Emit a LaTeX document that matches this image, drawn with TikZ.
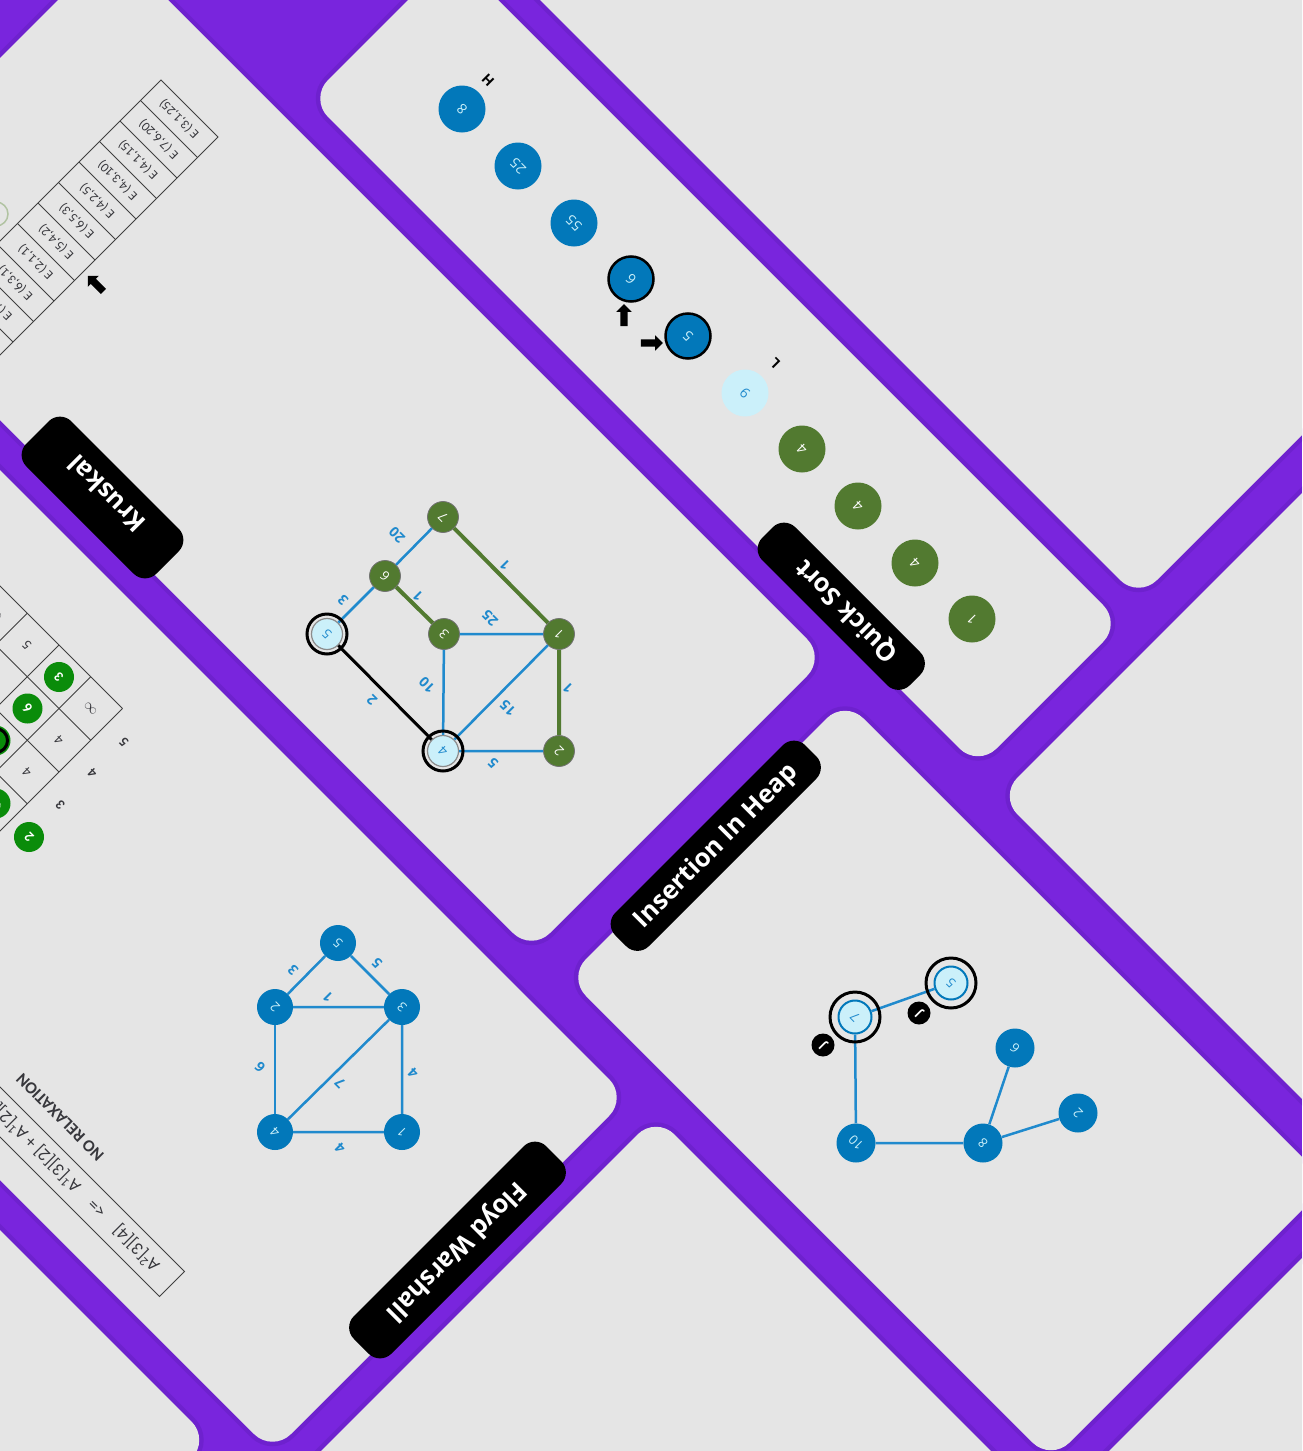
\documentclass[tikz,border=0pt]{standalone}
\usepackage{fontspec}
\setmainfont{Open Sans}
\newfontfamily\cellfont{Carlito}
\usetikzlibrary{arrows.meta,shapes.arrows}

\definecolor{bgviolet}{RGB}{121,37,221}
\definecolor{bandshade}{RGB}{98,30,188}
\definecolor{cardgray}{RGB}{229,229,229}
\definecolor{heapblue}{RGB}{2,120,186}
\definecolor{lineblue}{RGB}{32,138,205}
\definecolor{paleblue}{RGB}{203,240,250}
\definecolor{moss}{RGB}{82,122,48}
\definecolor{cellgreen}{RGB}{10,140,10}
\definecolor{inkgray}{RGB}{55,55,60}

\begin{document}
\begin{tikzpicture}[
  x=1pt, y=-1pt,
  ds/.style={x={(0.5pt,0.5pt)}, y={(0.5pt,-0.5pt)}},
  card/.style={fill=cardgray, rounded corners=26pt,
    preaction={draw=bandshade, line width=9pt, draw opacity=.45}},
  tab/.style={fill=black, rounded corners=16pt},
  tabtext/.style={text=white, font=\bfseries\fontsize{25.5}{25.5}\selectfont},
  turned/.style={rotate=135},
  % Kruskal graph
  kvert/.style={circle, fill=moss, draw=black!55, line width=.8pt,
    minimum size=31pt, inner sep=0pt, text=white,
    font=\fontsize{13}{13}\selectfont, turned},
  kpick/.style={kvert, fill=paleblue, draw=black!45, line width=1.2pt, text=lineblue},
  pickring/.style={draw=black, line width=3pt},
  kblue/.style={draw=lineblue, line width=2.5pt},
  kgreen/.style={draw=moss, line width=4pt},
  kblack/.style={draw=black, line width=3pt},
  wlabel/.style={text=lineblue, font=\bfseries\fontsize{14}{14}\selectfont, turned},
  % quick sort row
  qcell/.style={circle, fill=heapblue, minimum size=47pt, inner sep=0pt,
    text=paleblue, font=\fontsize{14}{14}\selectfont, turned},
  qmark/.style={qcell, draw=black, line width=2.5pt, minimum size=45pt},
  qpivot/.style={qcell, fill=paleblue, text=lineblue},
  qdone/.style={qcell, fill=moss, text=white},
  ptrtag/.style={text=black, font=\bfseries\fontsize{14}{14}\selectfont, turned},
  pointer/.style={single arrow, fill=black, inner sep=3.5pt, minimum height=22pt,
    single arrow head extend=4pt},
  % heap and Floyd graphs
  hvert/.style={circle, fill=heapblue, minimum size=39pt, inner sep=0pt,
    text=paleblue, font=\fontsize{13}{13}\selectfont, turned},
  hpick/.style={hvert, fill=paleblue, draw=heapblue, line width=2pt,
    minimum size=33pt, text=lineblue},
  hedge/.style={draw=lineblue, line width=2.5pt},
  badge/.style={circle, fill=black, minimum size=23pt, inner sep=0pt,
    text=white, font=\bfseries\fontsize{12}{12}\selectfont, turned},
  fvert/.style={hvert, minimum size=36pt},
  % tables
  gridline/.style={draw=black!75, line width=1pt},
  celltxt/.style={text=inkgray, font=\cellfont\fontsize{13}{13}\selectfont, turned},
  cellnum/.style={text=inkgray, font=\cellfont\fontsize{14}{14}\selectfont, turned},
  cellhit/.style={circle, fill=cellgreen, minimum size=30pt, inner sep=0pt,
    text=white, font=\cellfont\bfseries\fontsize{14}{14}\selectfont, turned},
  relax/.style={text=inkgray, font=\cellfont\bfseries\fontsize{17}{17}\selectfont, turned},
  formula/.style={text=inkgray, font=\cellfont\fontsize{18}{18}\selectfont, turned}
]

\useasboundingbox (0,0) rectangle (1302,1451);
\clip (0,0) rectangle (1302,1451);
\fill[bgviolet] (0,0) rectangle (1302,1451);

% cards, drawn along the diagonals (first coordinate d, second s)
\begin{scope}[ds]
  \fill[card] (-420,58) -- (168,58) -- (168,1483) -- (-420,1483) -- cycle;        % Kruskal
  \fill[card] (211,408) -- (498,408) -- (498,1745) -- (211,1745) -- cycle;        % Quick Sort
  \fill[card] (540,-600) -- (2600,-600) -- (2600,1737) -- (540,1737) -- cycle;    % top right
  \fill[card] (203,1795) -- (2600,1795) -- (2600,4000) -- (203,4000) -- cycle;    % right
  \fill[card] (-410,1545) -- (145,1545) -- (145,2512) -- (-410,2512) -- cycle;    % Insertion In Heap
  \fill[card] (-410,2560) -- (145,2560) -- (145,4000) -- (-410,4000) -- cycle;    % bottom right
  \fill[card] (-1180,-600) -- (-470,-600) -- (-470,1725) -- (-1180,1725) -- cycle; % Floyd Warshall
  \fill[card] (-1500,1772) -- (-460,1772) -- (-460,4000) -- (-1500,4000) -- cycle; % bottom
  \fill[card] (-2600,-600) -- (-1230,-600) -- (-1230,1650) -- (-2600,1650) -- cycle; % bottom left

  % title tabs
  \fill[tab] (-440,470) -- (-350,470) -- (-350,730) -- (-440,730) -- cycle;
  \fill[tab] (202,1300) -- (268,1300) -- (268,1595) -- (202,1595) -- cycle;
  \fill[tab] (-320,1528) -- (60,1528) -- (60,1595) -- (-320,1595) -- cycle;
  \fill[tab] (-985,1670) -- (-600,1670) -- (-600,1745) -- (-985,1745) -- cycle;
  \node[tabtext, rotate=135] (krtitle) at (-388,600) {Kruskal};
  \node[tabtext, rotate=135] (qstitle) at (236,1458) {Quick Sort};
  \node[tabtext, rotate=45]  (ihtitle) at (-130,1563) {Insertion In Heap};
  \node[tabtext, rotate=225] (fwtitle) at (-795,1706) {Floyd Warshall};

  % Kruskal: sorted edge list
  \draw[gridline] (-470,241) -- (81,241) -- (81,355) -- (-470,355);
  \foreach \k in {1,...,12}
    \draw[gridline] ({81-41*\k},241) -- ({81-41*\k},355);
  \foreach \edgetxt [count=\k] in {{E (3,1,25)},{E (7,6,20)},{E (4,1,15)},{E (4,3,10)},
      {E (4,2,5)},{E (6,5,3)},{E (5,4,2)},{E (2,1,1)},{E (6,3,1)},{E (7,1,1)}}
    \node[celltxt] (edge\k) at ({101.5-41*\k},298) {\edgetxt};
  \node[circle, draw=moss!45, line width=1.5pt, minimum size=24pt] (picked) at (-218,210) {};

  % Floyd Warshall: distance matrix
  \foreach \s in {513.5,577,640.5,704,767.5,831}
    \draw[gridline] (-967,\s) -- (-586,\s);
  \foreach \d in {-586,-649.5,-713,-776.5,-840,-903.5}
    \draw[gridline] (\d,513.5) -- (\d,831);
  \node[cellnum] (m51) at (-618,799) {$\infty$};
  \node[cellhit] (m52) at (-618,736) {3};
  \node[cellnum] (m53) at (-618,672) {5};
  \node[cellnum] (m54) at (-618,609) {$\infty$};
  \node[cellnum] (m41) at (-681,799) {4};
  \node[cellhit] (m42) at (-681,736) {6};
  \node[cellnum] (m43) at (-681,672) {7};
  \node[cellnum] (m31) at (-745,799) {4};
  \node[cellhit] (m32) at (-745,736) {1};
  \draw[pickring] (m32.center) circle[radius=17];
  \node[cellhit] (m21) at (-808,799) {$\infty$};
  \node[cellnum] (row5) at (-618,866) {\bfseries 5};
  \node[cellnum] (row4) at (-681,866) {\bfseries 4};
  \node[cellnum] (row3) at (-745,866) {\bfseries 3};
  \node[cellhit] (row2) at (-808,866) {2};

  % Floyd Warshall: relaxation check
  \node[relax, anchor=west] (norelax) at (-1057,1264) {NO RELAXATION};
  \draw[gridline] (-1087,900) -- (-1087,1456) -- (-1137,1456) -- (-1137,900);
  \node[formula, anchor=west] (check) at (-1112,1430)
    {A\textsuperscript{2}[3][4]\quad <=\quad A\textsuperscript{1}[3][2] + A\textsuperscript{1}[2][4]};
\end{scope}

% Kruskal graph
\node[kvert] (k7) at (443,517) {7};
\node[kvert] (k6) at (385,576) {6};
\node[kpick] (k5) at (327,634) {5};
\node[kvert] (k3) at (444,634) {3};
\node[kvert] (k1) at (559,634) {1};
\node[kpick] (k4) at (443,751) {4};
\node[kvert] (k2) at (559,751) {2};
\draw[kblue]  (k7) -- (k6);
\draw[kgreen] (k7) -- (k1);
\draw[kblue]  (k6) -- (k5);
\draw[kgreen] (k6) -- (k3);
\draw[kblue]  (k3) -- (k1);
\draw[kblue]  (k3) -- (k4);
\draw[kblue]  (k1) -- (k4);
\draw[kgreen] (k1) -- (k2);
\draw[kblack] (k5) -- (k4);
\draw[kblue]  (k4) -- (k2);
\draw[pickring] (k5.center) circle[radius=20];
\draw[pickring] (k4.center) circle[radius=20];
\node[wlabel] at (397,535) {20};
\node[wlabel] at (505,565) {1};
\node[wlabel] at (343,600) {3};
\node[wlabel] at (418,596) {1};
\node[wlabel] at (490,618) {25};
\node[wlabel] at (427,685) {10};
\node[wlabel] at (508,708) {15};
\node[wlabel] at (568,688) {1};
\node[wlabel] at (372,700) {2};
\node[wlabel] at (493,763) {5};
\node[pointer, rotate=135] (krnext) at (97,285) {};

% Quick Sort row
\node[qcell]  (q0) at (462,109) {8};
\node[qcell]  (q1) at (518,166) {25};
\node[qcell]  (q2) at (574,223) {55};
\node[qmark]  (q3) at (631,279) {6};
\node[qmark]  (q4) at (688,336) {5};
\node[qpivot] (q5) at (745,393) {9};
\node[qdone]  (q6) at (802,449) {4};
\node[qdone]  (q7) at (858,506) {4};
\node[qdone]  (q8) at (915,563) {4};
\node[qdone]  (q9) at (972,619) {1};
\node[ptrtag] (high) at (488,80) {H};
\node[ptrtag] (low) at (775,363) {L};
\node[pointer, rotate=90] (iptr) at (624,317) {};
\node[pointer] (jptr) at (650,343) {};

% Insertion In Heap
\node[hpick] (h7) at (855,1017) {7};
\node[hpick] (h5) at (951,983) {5};
\node[hvert] (h6) at (1015,1048) {6};
\node[hvert] (h2) at (1078,1113) {2};
\node[hvert] (h8) at (983,1143) {8};
\node[hvert] (h10) at (856,1143) {10};
\draw[hedge] (h7) -- (h5);
\draw[hedge] (h7) -- (h10);
\draw[hedge] (h10) -- (h8);
\draw[hedge] (h8) -- (h6);
\draw[hedge] (h8) -- (h2);
\draw[pickring] (h7.center) circle[radius=25];
\draw[pickring] (h5.center) circle[radius=25];
\node[badge] (tag7) at (823,1045) {J};
\node[badge] (tag5) at (919,1013) {J};

% Floyd Warshall graph
\node[fvert] (f5) at (338,943) {5};
\node[fvert] (f2) at (275,1007) {2};
\node[fvert] (f3) at (402,1007) {3};
\node[fvert] (f4) at (275,1132) {4};
\node[fvert] (f1) at (402,1132) {1};
\draw[hedge] (f5) -- (f2);
\draw[hedge] (f5) -- (f3);
\draw[hedge] (f2) -- (f3);
\draw[hedge] (f2) -- (f4);
\draw[hedge] (f3) -- (f4);
\draw[hedge] (f3) -- (f1);
\draw[hedge] (f4) -- (f1);
\node[wlabel] at (293,970) {3};
\node[wlabel] at (377,963) {5};
\node[wlabel] at (328,997) {1};
\node[wlabel] at (260,1067) {6};
\node[wlabel] at (340,1083) {7};
\node[wlabel] at (413,1073) {4};
\node[wlabel] at (340,1148) {4};

\end{tikzpicture}
\end{document}
